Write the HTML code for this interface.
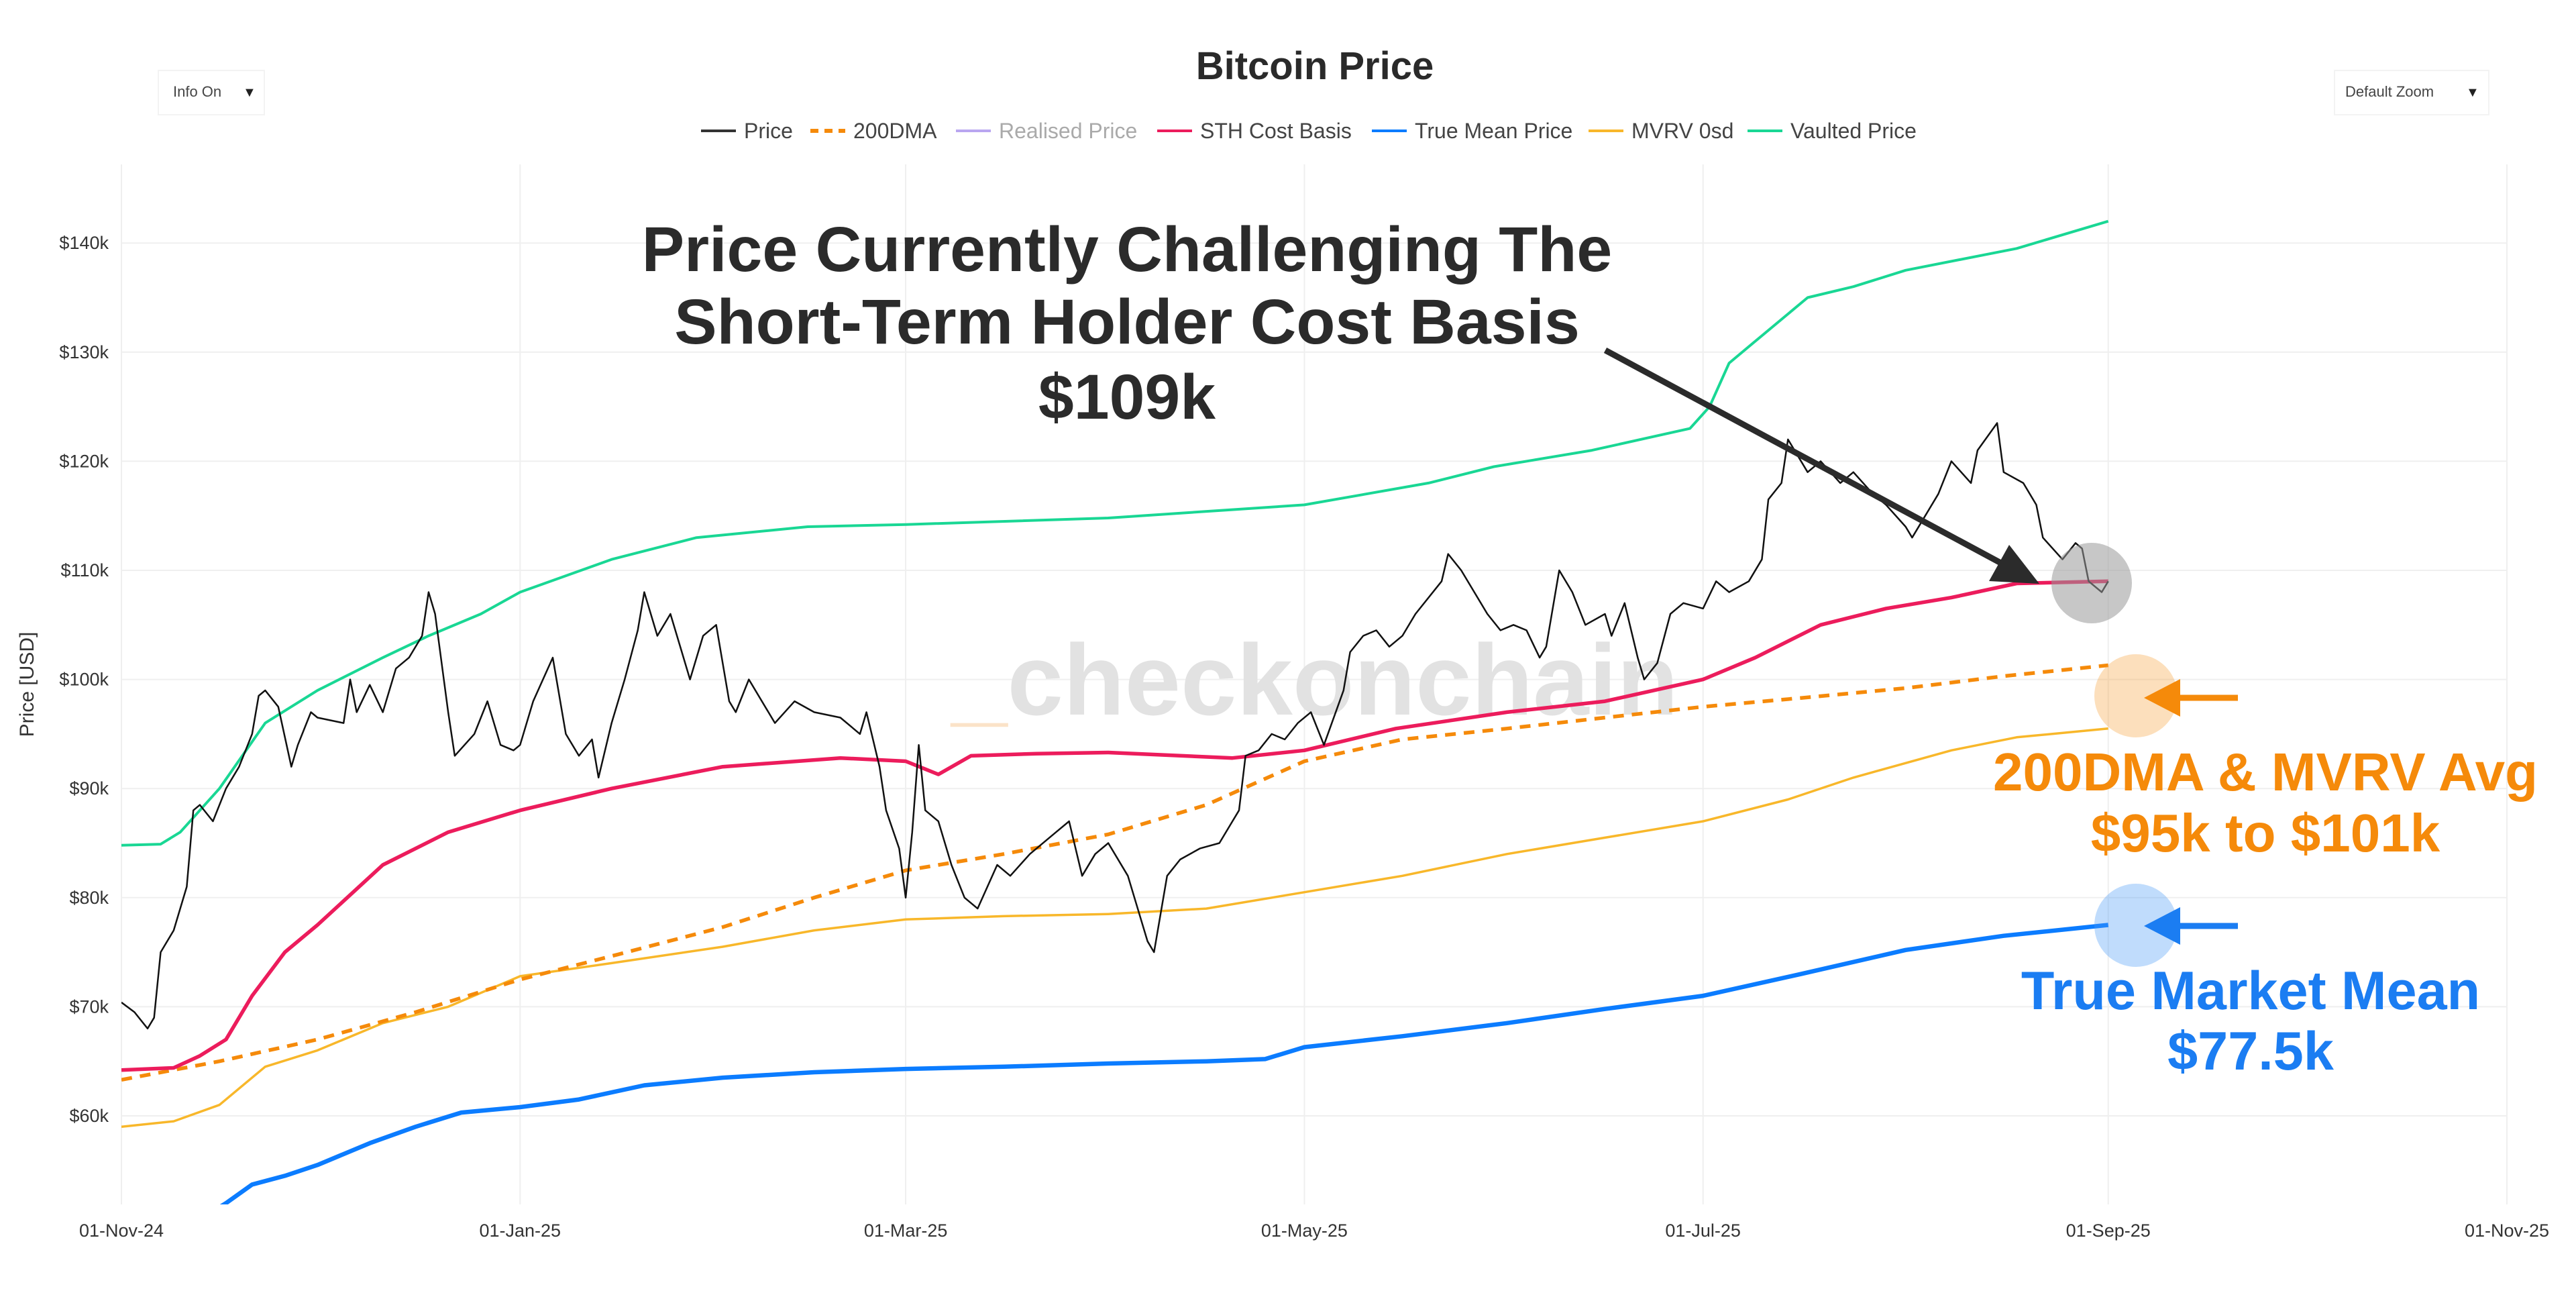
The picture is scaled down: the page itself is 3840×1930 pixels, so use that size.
<!DOCTYPE html>
<html><head><meta charset="utf-8">
<style>
html,body{margin:0;padding:0;background:#fff;}
body{width:3840px;height:1930px;overflow:hidden;position:relative;font-family:"Liberation Sans",sans-serif;}
svg{position:absolute;left:0;top:0;}
</style></head>
<body>
<svg id="chart" width="3840" height="1930" viewBox="0 0 3840 1930" xmlns="http://www.w3.org/2000/svg">
  <text x="1960" y="118" text-anchor="middle" font-size="58" font-weight="bold" fill="#2a2a2a" font-family="Liberation Sans, sans-serif">Bitcoin Price</text>
  <g>
    <rect x="236" y="105" width="158" height="66" fill="#fff" stroke="#f3f3f3" stroke-width="2"/>
    <text x="258" y="144" font-size="22" fill="#444">Info On</text>
    <text x="362" y="144" font-size="20" fill="#222">▼</text>
  </g>
  <g>
    <rect x="3480" y="105" width="230" height="66" fill="#fff" stroke="#f3f3f3" stroke-width="2"/>
    <text x="3496" y="144" font-size="22" fill="#444">Default Zoom</text>
    <text x="3676" y="144" font-size="20" fill="#222">▼</text>
  </g>
  <g id="legend" font-size="32" fill="#444"></g>
  <g id="grid"></g>
  <g id="axes" font-size="27" fill="#333"></g>
  <text x="1960" y="1065" text-anchor="middle" font-size="150" font-weight="bold" fill="#e2e2e2"><tspan fill="#fbe3c8">_</tspan>checkonchain</text>
  <g id="series"></g>
  <g font-weight="bold" text-anchor="middle">
    <text x="1680" y="404" font-size="95" fill="#2b2b2b">Price Currently Challenging The</text>
    <text x="1680" y="512" font-size="95" fill="#2b2b2b">Short-Term Holder Cost Basis</text>
    <text x="1680" y="624" font-size="95" fill="#2b2b2b">$109k</text>
    <line x1="2393" y1="522" x2="2990" y2="843" stroke="#2b2b2b" stroke-width="9"/>
    <polygon points="3040,870 2965,866 2995,812" fill="#2b2b2b"/>
    <circle cx="3118" cy="869" r="60" fill="#999" fill-opacity="0.55"/>
    <circle cx="3184" cy="1037" r="62" fill="#f7a440" fill-opacity="0.35"/>
    <circle cx="3184" cy="1379" r="62" fill="#4a9cf7" fill-opacity="0.35"/>
    <line x1="3336" y1="1040" x2="3240" y2="1040" stroke="#f58a0a" stroke-width="9"/>
    <polygon points="3196,1040 3250,1012 3250,1068" fill="#f58a0a"/>
    <line x1="3336" y1="1380" x2="3240" y2="1380" stroke="#1b7df2" stroke-width="9"/>
    <polygon points="3196,1380 3250,1352 3250,1408" fill="#1b7df2"/>
    <text x="3377" y="1178" font-size="80" fill="#f58a0a">200DMA &amp; MVRV Avg</text>
    <text x="3377" y="1269" font-size="80" fill="#f58a0a">$95k to $101k</text>
    <text x="3355" y="1504" font-size="81" fill="#1b7df2">True Market Mean</text>
    <text x="3355" y="1594" font-size="81" fill="#1b7df2">$77.5k</text>
  </g>
</svg>
<script>
// ---- data (days since 01-Nov-24, values in $k) ----
var xTickLabels = ["01-Nov-24","01-Jan-25","01-Mar-25","01-May-25","01-Jul-25","01-Sep-25","01-Nov-25"];
var xTickDays = [0,61,120,181,242,304,365];
var yTickValues = [60,70,80,90,100,110,120,130,140];
var priceDays = [0,2,4,5,6,8,10,11,12,14,16,18,20,21,22,24,26,27,29,30,34,35,36,38,40,42,44,46,47,48,50,51,54,56,58,60,61,63,66,68,70,72,73,75,77,79,80,82,84,86,87,89,91,93,94,96,100,103,106,110,113,114,116,117,119,120,121,122,123,125,127,129,131,134,136,139,143,145,147,149,151,154,157,158,160,162,165,168,170,171,172,174,176,178,180,182,184,187,188,190,192,194,196,198,202,203,205,207,209,211,213,215,217,218,220,222,224,227,228,230,232,233,235,237,239,242,244,246,249,251,252,254,255,258,260,263,265,268,270,273,274,276,278,280,283,284,287,288,291,293,294,297,299,300,301,303,304];
var priceValues = [70.4,69.5,68,69,75,77,81,88,88.5,87,90,92,95,98.5,99,97.5,92,94,97,96.5,96,100,97,99.5,97,101,102,104,108,106,97,93,95,98,94,93.5,94,98,102,95,93,94.5,91,96,100,104.5,108,104,106,102,100,104,105,98,97,100,96,98,97,96.5,95,97,92,88,84.5,80,86,94,88,87,83,80,79,83,82,84,86,87,82,84,85,82,76,75,82,83.5,84.5,85,87,88,93,93.5,95,94.5,96,97,94,99,102.5,104,104.5,103,104,106,109,111.5,110,108,106,104.5,105,104.5,102,103,110,108,105,106,104,107,102,100,101.5,106,107,106.5,109,108,109,111,116.5,118,122,119,120,118,119,117,116,114,113,115,117,120,118,121,123.5,119,118,116,113,111,112.5,112,109,108,109];
var vaultDays = [0,6,9,15,22,30,40,47,55,61,75,88,105,120,151,181,200,210,225,240,243,246,250,258,265,273,290,304];
var vaultValues = [84.8,84.9,86,90,96,99,102,104,106,108,111,113,114,114.2,114.8,116,118,119.5,121,123,125,129,131,135,136,137.5,139.5,142];
var sthDays = [0,8,12,16,20,25,30,40,50,61,75,92,110,120,125,130,140,151,170,181,195,212,227,242,250,260,270,280,290,304];
var sthValues = [64.2,64.4,65.5,67,71,75,77.5,83,86,88,90,92,92.8,92.5,91.3,93,93.2,93.3,92.8,93.5,95.5,97,98,100,102,105,106.5,107.5,108.8,109];
var dmaDays = [0,15,30,45,61,76,92,106,120,135,151,166,181,196,212,227,242,257,273,288,304];
var dmaValues = [63.3,65,67,69.5,72.5,74.8,77.3,80,82.5,84,85.8,88.5,92.5,94.5,95.5,96.5,97.5,98.3,99.2,100.3,101.3];
var mvrvDays = [0,8,15,22,30,40,50,61,75,92,106,120,135,151,166,181,196,212,227,242,255,265,280,290,304];
var mvrvValues = [59,59.5,61,64.5,66,68.5,70,72.8,74,75.5,77,78,78.3,78.5,79,80.5,82,84,85.5,87,89,91,93.5,94.7,95.5];
var trueDays = [12,16,20,25,30,38,45,52,61,70,80,92,106,120,135,151,166,175,181,196,212,227,242,257,273,288,304];
var trueValues = [50.5,52,53.7,54.5,55.5,57.5,59,60.3,60.8,61.5,62.8,63.5,64,64.3,64.5,64.8,65,65.2,66.3,67.3,68.5,69.8,71,73,75.2,76.5,77.5];

// ---- axes ----
var PL=181, PR=3737, PT=245, PB=1795;
function xScale(d){return PL + d*(PR-PL)/365;}
function yScale(v){return 1663 - (v-60)*16.26;}
var NS="http://www.w3.org/2000/svg";
function mk(tag, attrs, parent){var e=document.createElementNS(NS,tag);for(var k in attrs)e.setAttribute(k,attrs[k]);parent.appendChild(e);return e;}
var grid=document.getElementById('grid'), axes=document.getElementById('axes'), series=document.getElementById('series'), legend=document.getElementById('legend');

yTickValues.forEach(function(v){
  var l=mk('line',{x1:PL,x2:PR,y1:yScale(v),y2:yScale(v),stroke:'#efefef','stroke-width':2},grid);
  
  
  var t=mk('text',{x:162,y:yScale(v)+9,'text-anchor':'end'},axes);
  t.textContent='$'+v+'k';
  
  
});
xTickDays.forEach(function(d,i){
  var l=mk('line',{x1:xScale(d),x2:xScale(d),y1:PT,y2:PB,stroke:'#efefef','stroke-width':2},grid);
  
  
  var t=mk('text',{x:xScale(d),y:1843,'text-anchor':'middle'},axes);
  t.textContent=xTickLabels[i];
  
  
});
var yt=mk('text',{x:0,y:0,transform:'translate(50,1020) rotate(-90)','text-anchor':'middle','font-size':30},axes);
yt.textContent='Price [USD]';



// ---- series ----
mk('clipPath',{id:'plotclip'},series);
mk('rect',{x:PL,y:PT,width:PR-PL,height:PB-PT},document.getElementById('plotclip'));
function line(days, vals, stroke, w, dash, name){
  var pts=days.map(function(d,i){return xScale(d).toFixed(1)+','+yScale(vals[i]).toFixed(1);}).join(' ');
  var a={points:pts,fill:'none',stroke:stroke,'stroke-width':w,'stroke-linejoin':'round','clip-path':'url(#plotclip)'};
  if(dash)a['stroke-dasharray']=dash;
  var p=mk('polyline',a,series);
  
  
}
line(mvrvDays,mvrvValues,'#f8b72a',3.5,null,'mvrv-0sd-line');
line(dmaDays,dmaValues,'#f58a0a',5.5,'16 12','200dma-line');
line(trueDays,trueValues,'#0b7cff',6.5,null,'true-mean-price-line');
line(vaultDays,vaultValues,'#19d794',4,null,'vaulted-price-line');
line(sthDays,sthValues,'#ec1c5c',5.5,null,'sth-cost-basis-line');
line(priceDays,priceValues,'#111',2.5,null,'price-line');

// ---- legend ----
var legNames=['Price','200DMA','Realised Price','STH Cost Basis','True Mean Price','MVRV 0sd','Vaulted Price'];
var legColors=['#333','#f58a0a','#b9a6f0','#ec1c5c','#0b7cff','#f8b72a','#19d794'];
var legX=[1045,1208,1425,1725,2045,2368,2605];
legNames.forEach(function(n,i){
  var g=mk('g',{},legend);
  
  
  var a={x1:legX[i],x2:legX[i]+52,y1:195,y2:195,stroke:legColors[i],'stroke-width':i==1?6:4};
  if(i==1)a['stroke-dasharray']='12 9';
  mk('line',a,g);
  var t=mk('text',{x:legX[i]+64,y:206,fill:i==2?'#aaa':'#444'},g);
  t.textContent=n;
});
</script>
</body></html>
